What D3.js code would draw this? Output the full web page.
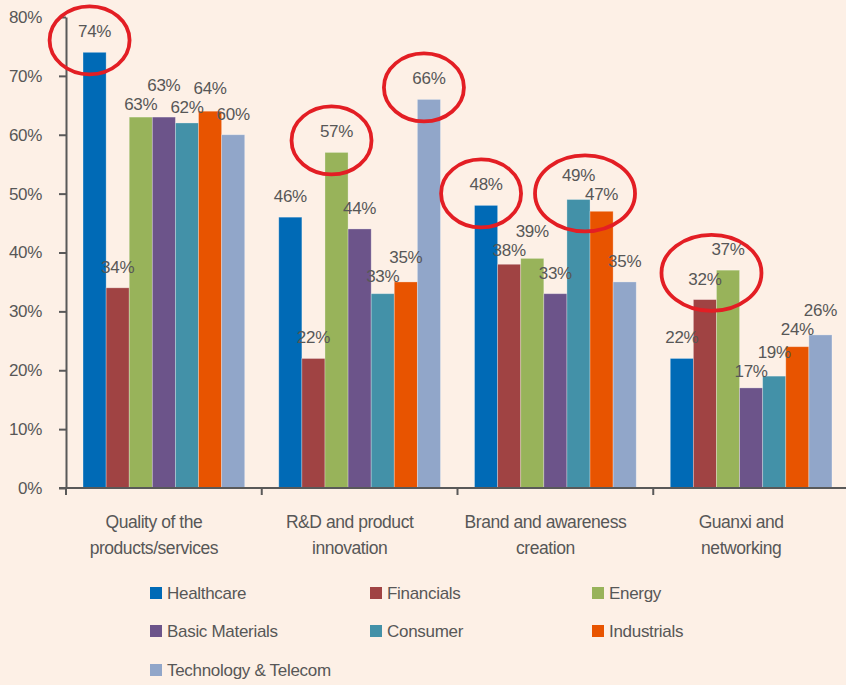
<!DOCTYPE html>
<html><head><meta charset="utf-8">
<script src="https://cdn.jsdelivr.net/npm/d3@7"></script>
<style>
html,body{margin:0;padding:0;background:#FDF0E6;}
svg{display:block;}
text{font-family:"Liberation Sans",Arial,Helvetica,sans-serif;fill:#575757;}
</style></head>
<body>
<svg id="chart" width="846" height="685"></svg>
<script>
const categories = [["Quality of the","products/services"],["R&D and product","innovation"],["Brand and awareness","creation"],["Guanxi and","networking"]];
const series = ["Healthcare","Financials","Energy","Basic Materials","Consumer","Industrials","Technology & Telecom"];
const colors = ["#006AB6","#A04343","#98B35A","#6C548A","#4391A8","#E85400","#91A6C9"];
const healthcare = [74,46,48,22];
const financials = [34,22,38,32];
const energy = [63,57,39,37];
const basicMaterials = [63,44,33,17];
const consumer = [62,33,49,19];
const industrials = [64,35,47,24];
const techTelecom = [60,66,35,26];
const values = [healthcare,financials,energy,basicMaterials,consumer,industrials,techTelecom];
const yTicks = [0,10,20,30,40,50,60,70,80];
// highlighted labels: [category index, series indices]
const highlights = [[0,[0]],[1,[2]],[1,[6]],[2,[0]],[2,[4,5]],[3,[1,2]]];

(function(){
const svg = d3.select("#chart");
const W = 846, H = 685;
const mLeft = 66, mTop = 17, mBottom = 488;
const catIdx = d3.range(categories.length);
const x0 = d3.scaleBand().domain(catIdx).range([mLeft, mLeft + 4*195.75]).padding(0);
const bw = x0.bandwidth();
const x1 = d3.scaleBand().domain(d3.range(series.length)).range([bw*0.087, bw*(1-0.087)]).padding(0);
const y = d3.scaleLinear().domain([0,80]).range([mBottom, mTop]);

// Y axis
const yAxis = d3.axisLeft(y).tickValues(yTicks).tickFormat(d => d + "%").tickSize(7).tickSizeOuter(0);
const gy = svg.append("g").attr("transform", `translate(${mLeft},0)`).call(yAxis);
gy.select(".domain").attr("stroke","#595959").attr("stroke-width",2);
gy.selectAll(".tick line").attr("stroke","#595959").attr("stroke-width",2);
gy.selectAll(".tick text").attr("x",-24).style("font-size","17px").attr("fill","#575757")
  .style("font-family",'"Liberation Sans",Arial,sans-serif').style("letter-spacing","-0.3px");

// Bars
const groups = svg.append("g").selectAll("g").data(catIdx).join("g")
  .attr("transform", c => `translate(${x0(c)},0)`);
groups.selectAll("rect").data(c => series.map((s,i)=>({c,i,v:values[i][c]}))).join("rect")
  .attr("x", d => x1(d.i)).attr("width", x1.bandwidth())
  .attr("y", d => y(d.v)).attr("height", d => y(0)-y(d.v))
  .attr("fill", d => colors[d.i])
  .attr("stroke","rgba(255,255,255,0.35)").attr("stroke-width",0.8);

// X axis
const gx = svg.append("g").attr("transform", `translate(0,${mBottom})`);
gx.append("line").attr("x1", mLeft-7).attr("x2", W).attr("stroke","#595959").attr("stroke-width",2);
gx.selectAll("line.t").data(catIdx).join("line").attr("class","t")
  .attr("x1", c => x0(c)).attr("x2", c => x0(c)).attr("y1",0).attr("y2",7)
  .attr("stroke","#595959").attr("stroke-width",2);
gx.selectAll("text").data(catIdx).join("text")
  .attr("text-anchor","middle").style("font-size","17.5px").style("letter-spacing","-0.45px")
  .attr("transform", c => `translate(${x0(c)+bw/2-10},0)`)
  .selectAll("tspan").data(c => categories[c]).join("tspan")
  .attr("x",0).attr("y",(d,i)=>40+i*26).text(d=>d);

// Labels with simple pairwise relaxation between neighbouring bars
const labelW = 31, minSep = 19;
const labelPos = {};
catIdx.forEach(c => {
  const L = series.map((s,i) => ({
    i, v: values[i][c],
    cx: x0(c) + x1(i) + x1.bandwidth()/2,
    cy: y(values[i][c]) - 21
  }));
  for (let it = 0; it < 40; it++) {
    for (let k = 0; k < L.length-1; k++) {
      const a = L[k], b = L[k+1];
      if (Math.abs(a.cx-b.cx) >= labelW) continue;
      const d = Math.abs(a.cy-b.cy);
      if (d >= minSep) continue;
      const push = (minSep - d)/4;
      const upper = (b.v >= a.v) ? b : a, lower = upper === b ? a : b;
      upper.cy -= push; lower.cy += push;
    }
  }
  L.forEach(l => {
    labelPos[c+"_"+l.i] = l;
    svg.append("text").attr("x",l.cx).attr("y",l.cy+6).attr("text-anchor","middle")
      .style("font-size","17px").style("letter-spacing","-0.3px").text(l.v + "%");
  });
});

// Highlight ellipses
highlights.forEach(([c, idxs]) => {
  const pts = idxs.map(i => labelPos[c+"_"+i]);
  const cx = d3.mean(pts, p => p.cx) - 5;
  const cy = d3.mean(pts, p => p.cy) + 9;
  const rx = idxs.length > 1 ? 50 : 40;
  const ry = idxs.length > 1 ? 38 : 34;
  svg.append("ellipse").attr("cx",cx).attr("cy",cy).attr("rx",rx).attr("ry",ry)
    .attr("fill","none").attr("stroke","#E31E24").attr("stroke-width",3.8);
});

// Legend
const legCols = [150, 370, 592], legRows = [593, 631, 670];
const leg = svg.append("g").selectAll("g").data(series).join("g")
  .attr("transform",(d,i)=>`translate(${legCols[i%3]},${legRows[Math.floor(i/3)]})`);
leg.append("rect").attr("x",0).attr("y",-6).attr("width",12).attr("height",12).attr("fill",(d,i)=>colors[i]);
leg.append("text").attr("x",17).attr("y",6).style("font-size","17px").style("letter-spacing","-0.3px").text(d=>d);
})();
</script>
</body></html>
